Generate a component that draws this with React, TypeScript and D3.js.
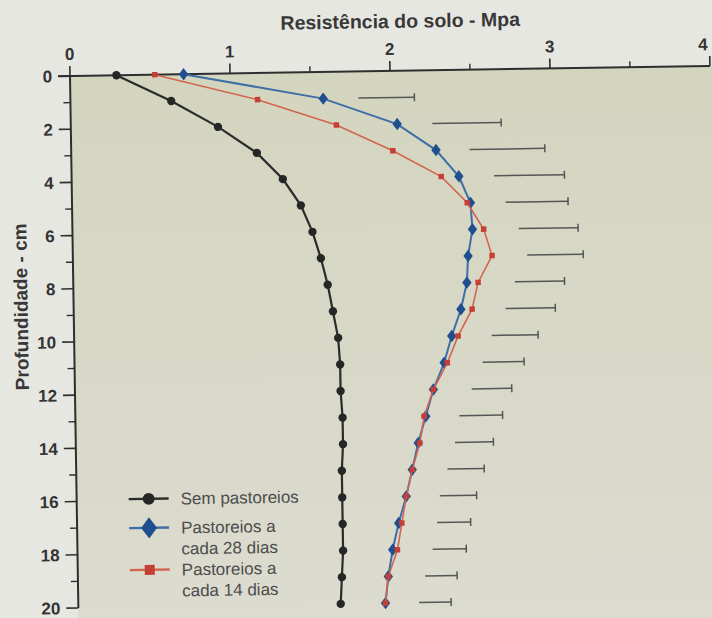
import * as d3 from 'd3'

// profundidade (cm)
const depths = [0, 1, 2, 3, 4, 5, 6, 7, 8, 9, 10, 11, 12, 13, 14, 15, 16, 17, 18, 19, 20]

// resistencia do solo (MPa) por tratamento
const semPastoreio = [0.29, 0.63, 0.92, 1.16, 1.32, 1.43, 1.5, 1.55, 1.59, 1.62, 1.65, 1.66, 1.66, 1.67, 1.67, 1.66, 1.66, 1.66, 1.66, 1.65, 1.64]
const pastoreio28 = [0.71, 1.58, 2.04, 2.28, 2.42, 2.49, 2.5, 2.47, 2.46, 2.42, 2.36, 2.31, 2.24, 2.19, 2.14, 2.1, 2.06, 2.01, 1.97, 1.94, 1.92]
const pastoreio14 = [0.53, 1.17, 1.66, 2.01, 2.31, 2.47, 2.57, 2.62, 2.53, 2.49, 2.4, 2.33, 2.24, 2.18, 2.15, 2.1, 2.06, 2.03, 2.0, 1.94, 1.92]

// barras de DMS (inicio e fim) para as profundidades 1..20
const dmsDepths = [1, 2, 3, 4, 5, 6, 7, 8, 9, 10, 11, 12, 13, 14, 15, 16, 17, 18, 19, 20]
const dmsStart = [1.8, 2.26, 2.49, 2.64, 2.71, 2.79, 2.84, 2.76, 2.7, 2.61, 2.55, 2.48, 2.4, 2.37, 2.32, 2.27, 2.25, 2.22, 2.17, 2.13]
const dmsEnd = [2.15, 2.69, 2.96, 3.08, 3.1, 3.16, 3.19, 3.07, 3.01, 2.9, 2.81, 2.73, 2.67, 2.61, 2.55, 2.5, 2.46, 2.43, 2.37, 2.33]

const xTicks = [0, 1, 2, 3, 4]
const xMinorTicks = [1.5, 2.5, 3.5]
const yTicks = [0, 2, 4, 6, 8, 10, 12, 14, 16, 18, 20]
const yMinorTicks = [1, 3, 5, 7, 9, 11, 13, 15, 17, 19]

const legendLabels = [['Sem pastoreios'], ['Pastoreios a', 'cada 28 dias'], ['Pastoreios a', 'cada 14 dias']]

const font = 'Liberation Sans, Arial, sans-serif'

const App = () => {
  const width = 712
  const height = 618
  const x = d3.scaleLinear().domain([0, 4]).range([0, 640])
  const y = d3.scaleLinear().domain([0, 20]).range([0, 532])

  const line = d3.line<number>()
    .x((d) => x(d))
    .y((_, i) => y(depths[i]))

  const circle = d3.symbol().type(d3.symbolCircle).size(55)()
  const diamond = d3.symbol().type(d3.symbolDiamond).size(45)()
  const square = d3.symbol().type(d3.symbolSquare).size(30)()
  const circleBig = d3.symbol().type(d3.symbolCircle).size(110)()
  const diamondBig = d3.symbol().type(d3.symbolDiamond).size(130)()
  const squareBig = d3.symbol().type(d3.symbolSquare).size(100)()

  const series = [
    { values: semPastoreio, line: '#2b2b2b', mark: '#262626', sym: circle, big: circleBig, w: 2.2, sx: 1 },
    { values: pastoreio28, line: '#3d6ea6', mark: '#1f4f8f', sym: diamond, big: diamondBig, w: 2, sx: 1.3 },
    { values: pastoreio14, line: '#d2654f', mark: '#c63f36', sym: square, big: squareBig, w: 1.6, sx: 1 },
  ]
  const legendY = [424, 453, 495]

  return (
    <svg width={width} height={height} style={{ position: 'absolute', left: 0, top: 0 }} fontFamily={font}>
      <defs>
        <linearGradient id="paper" x1="0" y1="0" x2="0" y2="1">
          <stop offset="0" stopColor="#d4d5bf" />
          <stop offset="1" stopColor="#dddcd2" />
        </linearGradient>
      </defs>
      <rect width={width} height={height} fill="#e7e7e2" />
      <g transform="translate(70,76) rotate(-0.9)">
        <rect x={0} y={0} width={720} height={620} fill="url(#paper)" />

        {/* eixo x no topo */}
        <line x1={-12} x2={x(4)} y1={0} y2={0} stroke="#2e2e2e" strokeWidth={2} />
        {xTicks.map((t) => (
          <g key={'xt' + t}>
            <line x1={x(t)} x2={x(t)} y1={0} y2={-10} stroke="#2e2e2e" strokeWidth={1.6} />
            <text x={t === 4 ? x(t) - 2 : x(t)} y={-16} textAnchor={t === 4 ? 'end' : 'middle'} fontSize={17} fontWeight="bold" fill="#333">{t}</text>
          </g>
        ))}
        {xMinorTicks.map((t) => (
          <line key={'xm' + t} x1={x(t)} x2={x(t)} y1={0} y2={-6} stroke="#2e2e2e" strokeWidth={1.4} />
        ))}
        <text x={331} y={-43} textAnchor="middle" fontSize={19.5} fontWeight="bold" fill="#383838">Resistência do solo - Mpa</text>

        {/* eixo y */}
        <line x1={0} x2={0} y1={0} y2={y(20)} stroke="#2e2e2e" strokeWidth={2} />
        {yTicks.map((t) => (
          <g key={'yt' + t}>
            <line x1={-12} x2={0} y1={y(t)} y2={y(t)} stroke="#2e2e2e" strokeWidth={1.6} />
            <text x={-18} y={y(t)} dy="0.36em" textAnchor="end" fontSize={17} fontWeight="bold" fill="#333">{t}</text>
          </g>
        ))}
        {yMinorTicks.map((t) => (
          <line key={'ym' + t} x1={-7} x2={0} y1={y(t)} y2={y(t)} stroke="#2e2e2e" strokeWidth={1.4} />
        ))}
        <text transform={`translate(-46,${y(8.65)}) rotate(-90)`} textAnchor="middle" fontSize={19} fontWeight="bold" fill="#383838">Profundidade - cm</text>

        {/* barras DMS */}
        {dmsDepths.map((d, i) => (
          <g key={'dms' + d} stroke="#555" strokeWidth={1.5}>
            <line x1={x(dmsStart[i])} x2={x(dmsEnd[i])} y1={y(d)} y2={y(d)} />
            <line x1={x(dmsEnd[i])} x2={x(dmsEnd[i])} y1={y(d) - 4} y2={y(d) + 4} />
          </g>
        ))}

        {/* curvas */}
        {series.map((s, k) => (
          <g key={'s' + k}>
            <path d={line(s.values) || ''} fill="none" stroke={s.line} strokeWidth={s.w} />
            {s.values.map((v, i) => (
              <path key={i} d={s.sym || ''} transform={`translate(${x(v)},${y(depths[i])}) scale(${s.sx},1)`} fill={s.mark} />
            ))}
          </g>
        ))}

        {/* legenda */}
        {series.map((s, k) => (
          <g key={'lg' + k}>
            <line x1={52} x2={92} y1={legendY[k]} y2={legendY[k]} stroke={s.line} strokeWidth={2.4} />
            <path d={s.big || ''} transform={`translate(72,${legendY[k]}) scale(${s.sx},1)`} fill={s.mark} />
            {legendLabels[k].map((lab, j) => (
              <text key={j} x={104} y={legendY[k] + j * 21} dy="0.36em" fontSize={17} fill="#4d4d4d">{lab}</text>
            ))}
          </g>
        ))}
      </g>
    </svg>
  )
}

export default App
